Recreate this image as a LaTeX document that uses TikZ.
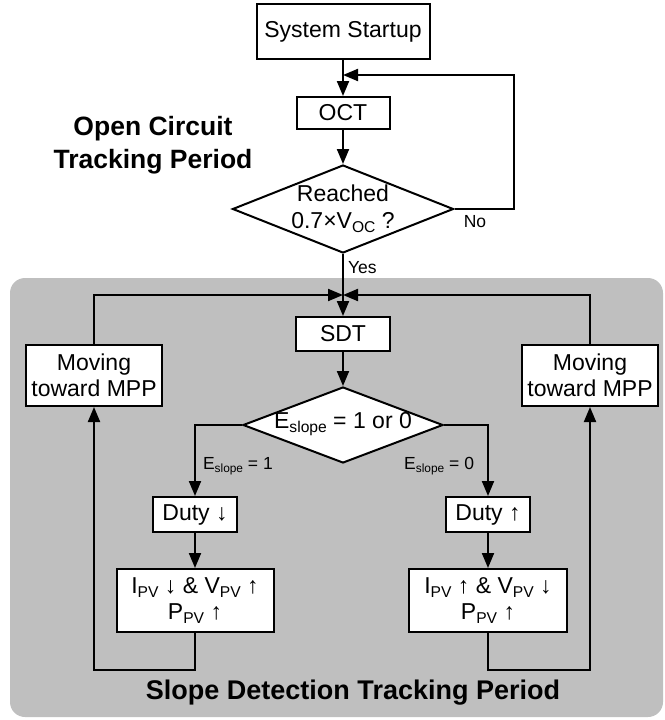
\documentclass[tikz,border=0pt]{standalone}
\usepackage{fontspec}
\usepackage{graphicx}
\setmainfont{Liberation Sans}
\usetikzlibrary{arrows.meta,shapes.geometric}
\definecolor{panel}{RGB}{191,191,191}
\newcommand\sbs[1]{\raisebox{-0.35ex}{\scalebox{0.68}{#1}}}
\begin{document}
\begin{tikzpicture}[x=1pt,y=-1pt,
  line width=2pt,
  arr/.style={-{Triangle[length=15pt,width=12pt]}},
  box/.style={draw, fill=white, inner sep=0pt, align=center, font=\fontsize{23}{26}\selectfont},
  dia/.style={draw, fill=white, diamond, inner sep=0pt},
  diatext/.style={inner sep=0pt, align=center, font=\fontsize{23}{27}\selectfont},
  lbl/.style={inner sep=0pt, font=\fontsize{17.5}{20}\selectfont},
  ttl/.style={inner sep=0pt, align=center, font=\bfseries\fontsize{26.5}{33}\selectfont}]
\useasboundingbox (0,0) rectangle (664,720);
\fill[panel, rounded corners=15pt] (10,278) rectangle (663,717);

% nodes
\node[box, minimum width=173pt, minimum height=55pt] (start) at (343,31.5) {System Startup};
\node[box, minimum width=93pt, minimum height=32pt] (oct) at (343,113) {OCT};
\node[dia, minimum width=221pt, minimum height=88pt] (d1) at (343,209) {};
\node[diatext] (d1t) at (343,208.5) {Reached\\0.7×V\sbs{OC} ?};
\node[box, minimum width=94pt, minimum height=34pt] (sdt) at (343,334) {SDT};
\node[dia, minimum width=200pt, minimum height=76pt] (d2) at (343,425) {};
\node[diatext] (d2t) at (343,424) {E\sbs{slope} = 1 or 0};
\node[box, minimum width=136pt, minimum height=61pt] (mvL) at (94,375.5) {Moving\\toward MPP};
\node[box, minimum width=136pt, minimum height=61pt] (mvR) at (590,375.5) {Moving\\toward MPP};
\node[box, minimum width=84pt, minimum height=35pt] (dD) at (195,514.5) {Duty ↓};
\node[box, minimum width=84pt, minimum height=35pt] (dU) at (488,514.5) {Duty ↑};
\node[box, minimum width=157pt, minimum height=63pt] (pL) at (195,600.5) {I\sbs{PV} ↓ \& V\sbs{PV} ↑\\P\sbs{PV} ↑};
\node[box, minimum width=158pt, minimum height=63pt] (pR) at (488,600.5) {I\sbs{PV} ↑ \& V\sbs{PV} ↓\\P\sbs{PV} ↑};

\coordinate (j1) at (343,75);
\coordinate (j2) at (343,295);

% labels
\node[ttl] (t1) at (153,145.5) {Open Circuit\\Tracking Period};
\node[ttl, font=\bfseries\fontsize{27}{33}\selectfont] (t2) at (353,693) {Slope Detection Tracking Period};
\node[lbl] (no) at (475,222) {No};
\node[lbl, anchor=west] (yes) at (347,268) {Yes};
\node[lbl, anchor=west] (e1) at (202,466) {E\sbs{slope} = 1};
\node[lbl, anchor=east] (e0) at (475,466) {E\sbs{slope} = 0};

% connectors
\draw[arr] (start.south) -- (oct.north);
\draw[arr] (oct.south) -- (d1.north);
\draw[arr] (d1.east) -- ++(59,0) |- (j1);
\draw[arr] (d1.south) -- (sdt.north);
\draw[arr] (mvL.north) |- (j2);
\draw[arr] (mvR.north) |- (j2);
\draw[arr] (sdt.south) -- (d2.north);
\draw[arr] (d2.west) -| (dD.north);
\draw[arr] (d2.east) -| (dU.north);
\draw[arr] (dD.south) -- (pL.north);
\draw[arr] (dU.south) -- (pR.north);
\draw[arr] (pL.south) -- ++(0,37) -| (mvL.south);
\draw[arr] (pR.south) -- ++(0,37) -| (mvR.south);
\end{tikzpicture}
\end{document}
